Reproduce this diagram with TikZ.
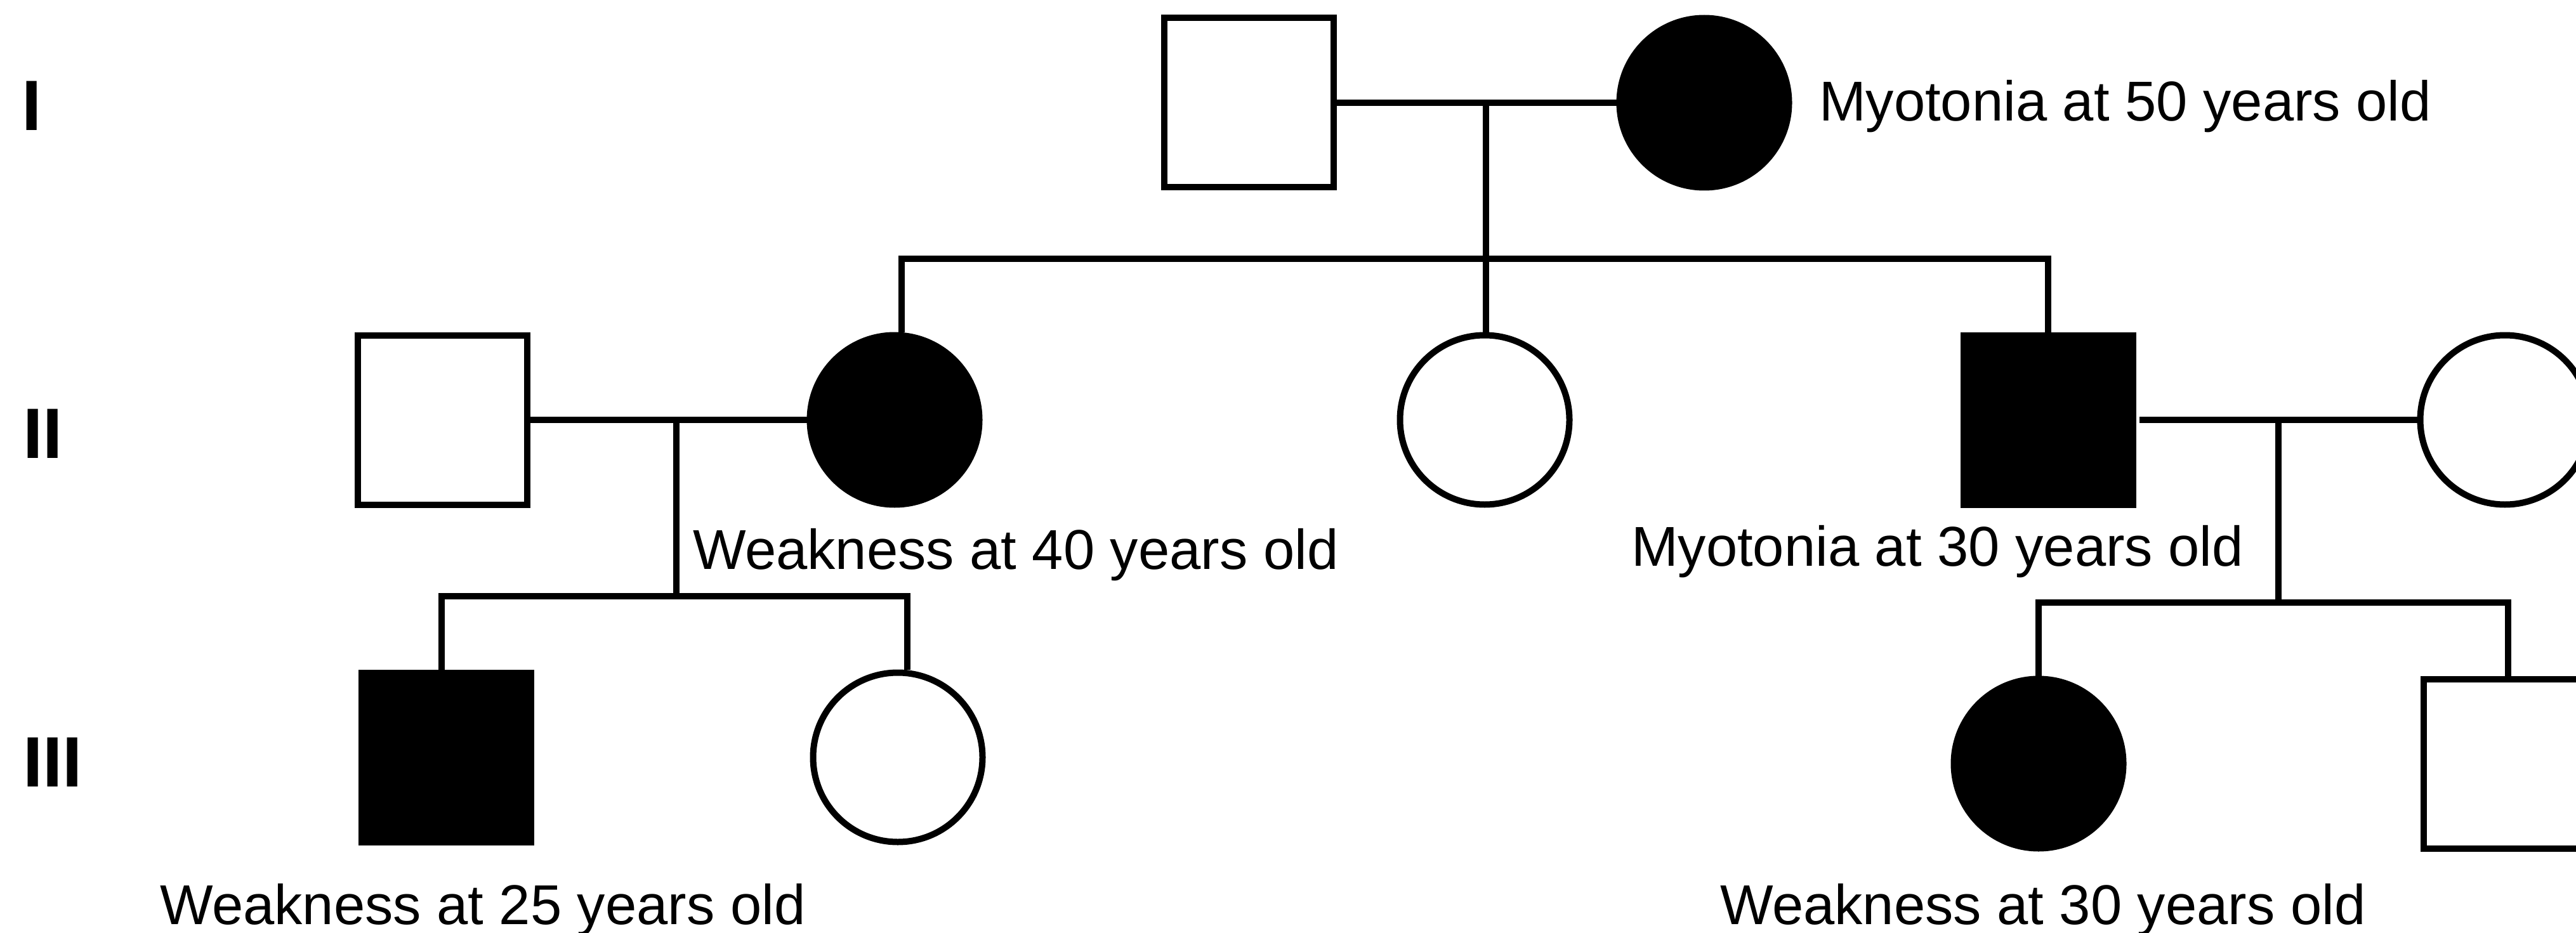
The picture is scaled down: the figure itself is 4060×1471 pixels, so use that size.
\documentclass[tikz,border=0pt]{standalone}
\usepackage{fontspec}
\setmainfont{Liberation Sans}
\begin{document}
\begin{tikzpicture}[x=0.1mm,y=-0.1mm, line width=1mm,
  male/.style={draw, rectangle, minimum size=26.7mm, inner sep=0},
  female/.style={draw, circle, minimum size=26.7mm, inner sep=0},
  aff/.style={fill=black},
  lbl/.style={anchor=base west, inner sep=0, font=\fontsize{25.2}{28}\selectfont},
  gen/.style={anchor=base west, inner sep=0, font=\fontsize{32}{36}\selectfont\bfseries}]
\path[clip] (0,0) rectangle (4060,1471);
% individuals
\node[male] (I1) at (1968,162) {};
\node[female,aff] (I2) at (2686,162) {};
\node[male] (II1) at (697,662) {};
\node[female,aff] (II2) at (1410,662) {};
\node[female] (II3) at (2340,662) {};
\node[male,aff] (II4) at (3228,662) {};
\node[female] (II5) at (3948,662) {};
\node[male,aff] (III1) at (703,1194) {};
\node[female] (III2) at (1415,1194) {};
\node[female,aff] (III3) at (3213,1204) {};
\node[male] (III4) at (3953,1204) {};
% junction points
\coordinate (m1) at (2342,162); \coordinate (s1) at (2342,408);
\coordinate (m2) at (1066,662); \coordinate (s2) at (1066,940);
\coordinate (m3) at (3591,660); \coordinate (s3) at (3591,950);
% connectors
\draw (I1.east) -- (I2.west);
\draw (m1) -- (m1 |- II3.north);
\draw ([xshift=1.1mm]II2.north) |- (s1) -| (II4.north);
\draw (II1.east) -- (II2.west);
\draw (m2) -- (s2);
\draw ([xshift=-0.7mm]III1.north) |- (s2) -| ([xshift=1.5mm]III2.north);
\draw ([xshift=0.5mm]II4.east) -- (II5.west);
\draw (m3) -- (s3);
\draw (III3.north) |- (s3) -| (III4.north);
% labels
\node[gen] (gI) at (29,205) {I};
\node[gen] (gII) at (31,722) {II};
\node[gen] (gIII) at (31,1240) {III};
\node[lbl] (t1) at (2862,190) {Myotonia at 50 years old};
\node[lbl] (t2) at (1087,897) {Weakness at 40 years old};
\node[lbl] (t3) at (2566,892) {Myotonia at 30 years old};
\node[lbl] (t4) at (247,1457) {Weakness at 25 years old};
\node[lbl] (t5) at (2706,1457) {Weakness at 30 years old};
\end{tikzpicture}
\end{document}
